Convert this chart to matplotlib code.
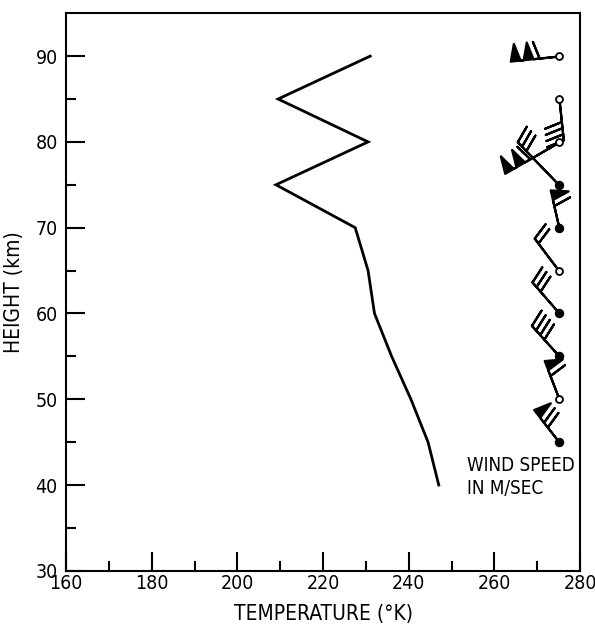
import numpy as np
import matplotlib.pyplot as plt
from matplotlib import font_manager

# ── Pick a condensed sans if one is installed ─────────────────────────────────
def pick_condensed():
    best = None
    for f in font_manager.fontManager.ttflist:
        if f.style != 'normal' or f.weight not in (400, 'normal', 'regular'):
            continue
        if 'Serif' in f.name or 'Mono' in f.name:
            continue
        st = f.stretch
        cond = ('Narrow' in f.name or 'Condensed' in f.name
                or st in ('condensed', 'semi-condensed', 'extra-condensed')
                or (isinstance(st, int) and st < 500))
        if cond:
            if best is None or 'DejaVu' in f.name or 'Liberation' in f.name:
                best = f
    return best

cf = pick_condensed()
if cf is not None:
    plt.rcParams['font.family'] = [cf.name, 'DejaVu Sans']
    plt.rcParams['font.stretch'] = cf.stretch
    BASE = 14
else:
    plt.rcParams['font.family'] = ['DejaVu Sans']
    BASE = 12

# ── Temperature profile ────────────────────────────────────────────────────────
height_km = [40, 45, 50, 55, 60, 65, 70, 75, 80, 85, 90]
temp_K    = [247, 244.5, 240.5, 236, 232, 230.5, 227.5, 209, 230.5, 209.5, 231]

# ── Wind barbs (speed in m/sec, direction the wind blows toward, screen deg) ──
wind_height = [45, 50, 55, 60, 65, 70, 75, 80, 85, 90]
wind_speed  = [70, 60, 40, 30, 20, 60, 30, 110, 40, 110]
wind_toward = [-52, -69, -48, -49, -53, -77, -46, 30, 96, 6]
wind_x      = 275

# drawing style per barb (shaft length, hollow station circle)
barb_len = [7.7, 7.7, 7.7, 7.7, 7.7, 7.5, 9.3, 9.5, 7.7, 8.4]
dot_open = [False, True, False, False, True, False, False, True, True, True]
REF_LEN = 7.7

fig = plt.figure(figsize=(5.95, 6.3), dpi=100)
ax = fig.add_axes([0.111, 0.094, 0.864, 0.885])

ax.plot(temp_K, height_km, color='black', lw=2.0, solid_joinstyle='miter')

for h, spd, deg, ln, hollow in zip(wind_height, wind_speed, wind_toward,
                                   barb_len, dot_open):
    a = np.deg2rad(deg)
    k = (REF_LEN / ln) ** 2          # keep feather size fixed as shaft grows
    ax.barbs([wind_x], [h], [spd * np.cos(a)], [spd * np.sin(a)],
             length=ln, linewidth=1.6, color='black',
             sizes=dict(spacing=0.15 * k, height=0.42 * k, width=0.24 * k))
    ax.plot(wind_x, h, 'o', ms=5 if hollow else 5.5, mec='black', mew=1.3,
            mfc='white' if hollow else 'black', zorder=3)

ax.text(253.5, 43.4, 'WIND SPEED\nIN M/SEC', fontsize=BASE - 0.5, ha='left',
        va='top', linespacing=1.3)

ax.set_xlim(160, 280)
ax.set_ylim(30, 95)
ax.set_xticks(np.arange(160, 281, 20))
ax.set_xticks(np.arange(170, 280, 20), minor=True)
ax.set_yticks(np.arange(30, 91, 10))
ax.set_yticks(np.arange(35, 95, 10), minor=True)
ax.tick_params(which='both', direction='in', width=1.5, labelsize=BASE)
ax.tick_params(which='major', length=14)
ax.tick_params(which='minor', length=7)
ax.tick_params(axis='x', pad=2)
ax.tick_params(axis='y', pad=6)
for s in ax.spines.values():
    s.set_linewidth(1.5)

ax.set_xlabel('TEMPERATURE (°K)', fontsize=BASE + 1, labelpad=8)
ax.set_ylabel('HEIGHT (km)', fontsize=BASE + 1, labelpad=8)

fig.savefig('out.png', dpi=100)
